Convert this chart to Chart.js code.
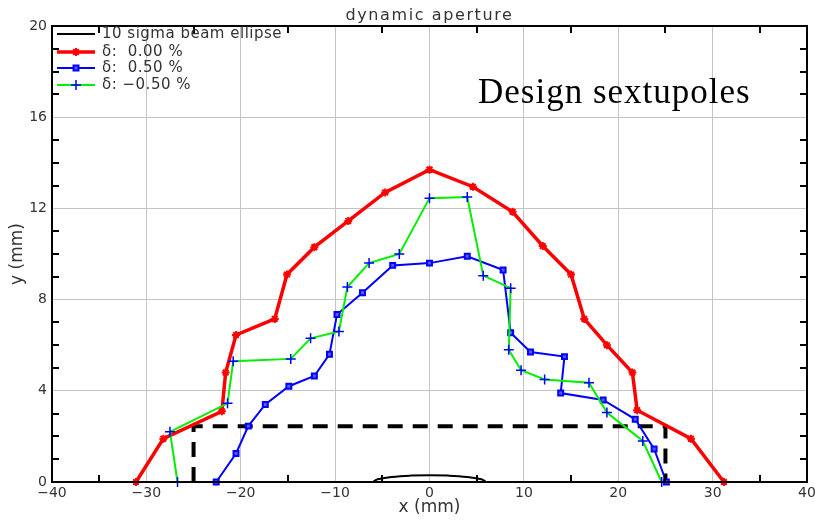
<!DOCTYPE html>
<html>
<head>
<meta charset="utf-8">
<title>dynamic aperture</title>
<script src="https://cdn.jsdelivr.net/npm/chart.js@4.4.1/dist/chart.umd.min.js"></script>
<style>
    html, body { margin: 0; padding: 0; background: #ffffff; }
    #apertureChart { display: block; }
</style>
</head>
<body>
<canvas id="apertureChart" width="815" height="520"></canvas>
<script>
// Tracked aperture boundaries (mm)
const xDelta0 = [-31.1, -28.2, -22.0, -21.6, -20.5, -16.4, -15.1, -12.2, -8.6, -4.7, 0.0, 4.6, 8.8, 12.0, 15.0, 16.4, 18.8, 21.5, 22.0, 27.7, 31.2];
const yDelta0 = [0.0, 1.9, 3.1, 4.8, 6.45, 7.15, 9.1, 10.3, 11.45, 12.7, 13.7, 12.95, 11.85, 10.35, 9.1, 7.15, 6.0, 4.8, 3.15, 1.9, 0.0];

const xDeltaPos = [-22.6, -20.5, -19.2, -17.4, -14.9, -12.2, -10.6, -9.8, -7.1, -3.9, 0.0, 4.0, 7.8, 8.6, 10.7, 14.3, 13.9, 18.4, 21.8, 23.8, 25.1];
const yDeltaPos = [0.0, 1.25, 2.45, 3.4, 4.2, 4.65, 5.6, 7.35, 8.3, 9.5, 9.6, 9.9, 9.3, 6.55, 5.7, 5.5, 3.9, 3.6, 2.75, 1.45, 0.0];

const xDeltaNeg = [-26.7, -27.5, -21.4, -20.8, -14.7, -12.6, -9.6, -8.7, -6.4, -3.2, 0.0, 4.0, 5.7, 8.6, 8.4, 9.7, 12.2, 16.9, 18.8, 22.6, 24.6];
const yDeltaNeg = [0.0, 2.2, 3.45, 5.3, 5.4, 6.3, 6.6, 8.55, 9.6, 10.0, 12.45, 12.5, 9.05, 8.5, 5.8, 4.9, 4.5, 4.35, 3.05, 1.8, 0.0];

// 10 sigma beam ellipse (upper half)
const xEllipse = [-6.0, -5.5, -4.0, -2.0, 0.0, 2.0, 4.0, 5.5, 6.0];
const yEllipse = [0.0, 0.12, 0.22, 0.28, 0.3, 0.28, 0.22, 0.12, 0.0];

// required aperture box
const xBox = [-25, -25, 25, 25];
const yBox = [0, 2.45, 2.45, 0];

const seriesLabels = ['10 sigma beam ellipse', 'δ:  0.00 %', 'δ:  0.50 %', 'δ: \u22120.50 %'];
const xTicks = [-40, -30, -20, -10, 0, 10, 20, 30, 40];
const yTicks = [0, 4, 8, 12, 16, 20];

const FONT = 'DejaVu Sans';
const TEXT = '#333333';

function toPoints(xs, ys) {
    return xs.map((x, i) => ({ x: x, y: ys[i] }));
}

// minus sign as in the plot labels
function fmt(v) {
    return String(v).replace('-', '\u2212');
}

// title, frame, inward minor ticks, legend box and annotation
const decorations = {
    id: 'decorations',
    afterDraw(chart) {
        const c = chart.ctx;
        const a = chart.chartArea;
        const xs = chart.scales.x, ys = chart.scales.y;
        c.save();

        c.fillStyle = TEXT;
        c.font = '16px ' + FONT;
        c.letterSpacing = '1.6px';
        c.textAlign = 'center';
        c.textBaseline = 'alphabetic';
        c.fillText('dynamic aperture', (a.left + a.right) / 2, 20);
        c.textAlign = 'left';

        c.strokeStyle = '#000000';
        c.lineWidth = 2;
        c.beginPath();
        for (let v = -35; v < 40; v += 10) {
            const px = Math.round(xs.getPixelForValue(v));
            c.moveTo(px, a.bottom); c.lineTo(px, a.bottom - 7);
            c.moveTo(px, a.top); c.lineTo(px, a.top + 7);
        }
        for (let v = 1; v < 20; v++) {
            if (v % 4 === 0) continue;
            const py = Math.round(ys.getPixelForValue(v));
            c.moveTo(a.left, py); c.lineTo(a.left + 7, py);
            c.moveTo(a.right, py); c.lineTo(a.right - 7, py);
        }
        c.stroke();
        c.strokeRect(a.left, a.top, a.right - a.left, a.bottom - a.top);

        // legend inside the plot, top-left
        const rows = chart.data.datasets.filter(d => d.legendRow !== undefined)
            .sort((p, q) => p.legendRow - q.legendRow);
        c.font = '15px ' + FONT;
        c.letterSpacing = '0.5px';
        c.textBaseline = 'middle';
        rows.forEach((d, i) => {
            const y = [34, 52, 68, 85][i];
            c.strokeStyle = d.borderColor;
            c.lineWidth = d.borderWidth;
            c.beginPath();
            c.moveTo(57, y); c.lineTo(95, y);
            c.stroke();
            if (d.pointRadius > 0) {
                c.fillStyle = d.pointBackgroundColor;
                c.strokeStyle = d.pointBorderColor;
                c.lineWidth = d.pointBorderWidth;
                Chart.helpers.drawPoint(c, {
                    pointStyle: d.pointStyle,
                    radius: d.pointRadius,
                    borderWidth: d.pointBorderWidth
                }, 76, y);
            }
            c.fillStyle = TEXT;
            c.fillText(d.label, 102, y);
        });

        c.fillStyle = '#000000';
        c.font = '35px "Liberation Serif"';
        c.letterSpacing = '1px';
        c.textBaseline = 'alphabetic';
        c.fillText('Design sextupoles', 478, 103);
        c.restore();
    }
};

document.addEventListener('DOMContentLoaded', function() {
    const ctx = document.getElementById('apertureChart');
    if (!ctx) return;

    new Chart(ctx, {
        type: 'scatter',
        data: {
            datasets: [
                {
                    label: seriesLabels[0],
                    legendRow: 0,
                    data: toPoints(xEllipse, yEllipse),
                    showLine: true,
                    tension: 0.4,
                    borderColor: '#000000',
                    borderWidth: 2,
                    pointRadius: 0,
                    order: 1
                },
                {
                    label: seriesLabels[1],
                    legendRow: 1,
                    data: toPoints(xDelta0, yDelta0),
                    showLine: true,
                    borderColor: '#ff0000',
                    borderWidth: 3.5,
                    pointStyle: 'star',
                    pointRadius: 4,
                    pointBorderWidth: 2,
                    pointBorderColor: '#ff0000',
                    pointBackgroundColor: '#ff0000',
                    order: 4
                },
                {
                    label: seriesLabels[2],
                    legendRow: 2,
                    data: toPoints(xDeltaPos, yDeltaPos),
                    showLine: true,
                    borderColor: '#0000ff',
                    borderWidth: 2,
                    pointStyle: 'rect',
                    pointRadius: 3.5,
                    pointBorderWidth: 2,
                    pointBorderColor: '#0000ff',
                    pointBackgroundColor: '#5a5aff',
                    order: 3
                },
                {
                    label: seriesLabels[3],
                    legendRow: 3,
                    data: toPoints(xDeltaNeg, yDeltaNeg),
                    showLine: true,
                    borderColor: '#00f000',
                    borderWidth: 2,
                    pointStyle: 'cross',
                    pointRadius: 5,
                    pointBorderWidth: 1.5,
                    pointBorderColor: '#0000ff',
                    pointBackgroundColor: '#0000ff',
                    order: 2
                },
                {
                    label: 'box',
                    data: toPoints(xBox, yBox),
                    showLine: true,
                    borderColor: '#000000',
                    borderWidth: 4,
                    borderDash: [15, 10],
                    pointRadius: 0,
                    order: 5
                }
            ]
        },
        options: {
            responsive: false,
            animation: false,
            layout: { padding: { left: 0, right: 8, top: 26, bottom: 0 } },
            datasets: { scatter: { clip: false } },
            plugins: {
                legend: { display: false },
                tooltip: { enabled: false },
                title: { display: false }
            },
            scales: {
                x: {
                    type: 'linear',
                    min: -40,
                    max: 40,
                    afterBuildTicks: s => { s.ticks = xTicks.map(v => ({ value: v })); },
                    afterFit: s => { s.height = 38; s.paddingLeft = 0; s.paddingRight = 0; },
                    ticks: {
                        callback: v => fmt(v),
                        color: TEXT,
                        padding: 3,
                        maxRotation: 0,
                        font: { family: FONT, size: 14 }
                    },
                    grid: { color: '#c4c4c4', lineWidth: 1, drawTicks: false },
                    border: { display: false },
                    title: {
                        display: true,
                        text: 'x (mm)',
                        color: TEXT,
                        font: { family: FONT, size: 17 },
                        padding: { top: 0, bottom: 2 }
                    }
                },
                y: {
                    type: 'linear',
                    min: 0,
                    max: 20,
                    afterBuildTicks: s => { s.ticks = yTicks.map(v => ({ value: v })); },
                    afterFit: s => { s.width = 52; s.paddingTop = 0; s.paddingBottom = 0; },
                    ticks: {
                        color: TEXT,
                        padding: 5,
                        font: { family: FONT, size: 14 }
                    },
                    grid: { color: '#c4c4c4', lineWidth: 1, drawTicks: false },
                    border: { display: false },
                    title: {
                        display: true,
                        text: 'y (mm)',
                        color: TEXT,
                        font: { family: FONT, size: 17 },
                        padding: { top: 7, bottom: 0 }
                    }
                }
            }
        },
        plugins: [decorations]
    });
});
</script>
</body>
</html>
